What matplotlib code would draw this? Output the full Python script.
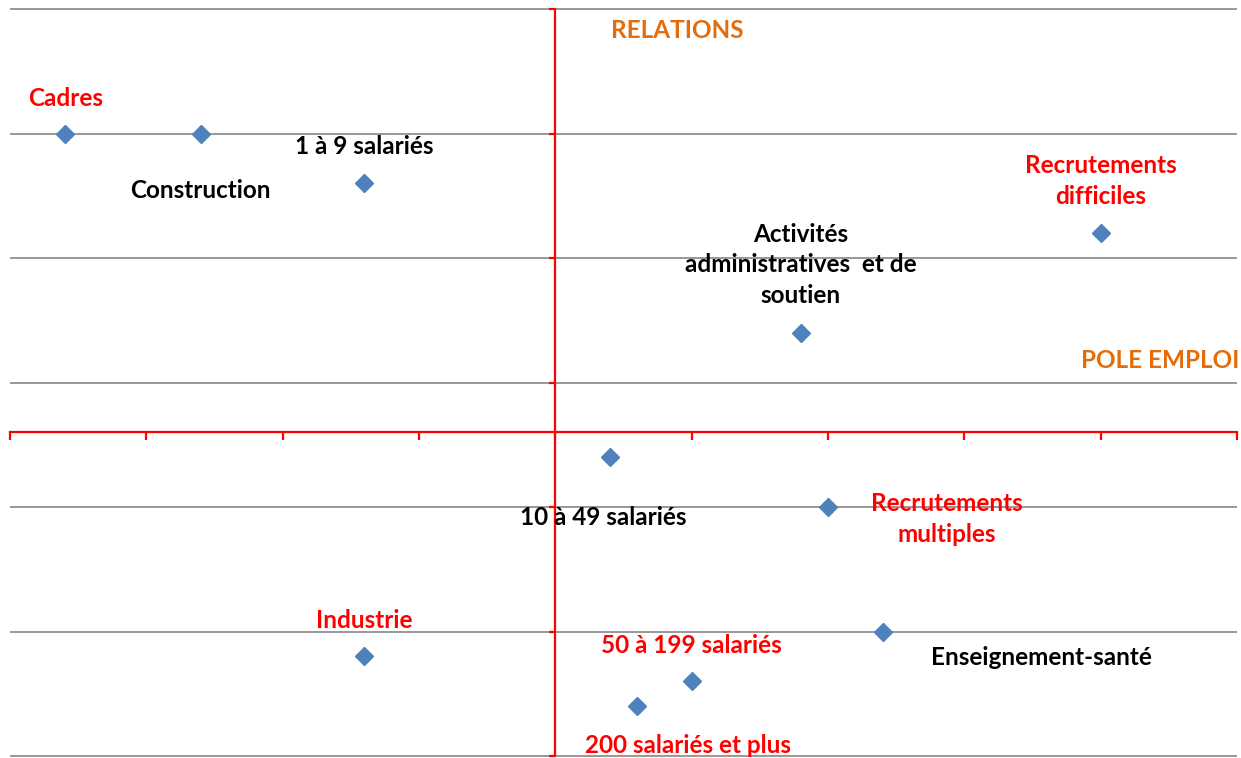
import matplotlib.pyplot as plt
import numpy as np

# --- Data ---
labels = ['Cadres', 'Construction', '1 à 9 salariés', 'Recrutements\ndifficiles',
          'Activités\nadministratives  et de\nsoutien', '10 à 49 salariés',
          'Recrutements\nmultiples', 'Enseignement-santé', 'Industrie',
          '50 à 199 salariés', '200 salariés et plus']
x_vals = [-3.6, -2.6, -1.4, 4.0, 1.8, 0.4, 2.0, 2.4, -1.4, 1.0, 0.6]
y_vals = [2.4, 2.4, 2.0, 1.6, 0.8, -0.2, -0.6, -1.6, -1.8, -2.0, -2.2]
label_red = [True, False, False, True, False, False, True, False, True, True, True]

x_ticks = np.arange(-4, 6, 1)
y_grid = [-2.6, -1.6, -0.6, 0.4, 1.4, 2.4, 3.4]

# label placement (pixels from the point)
offsets = [(1, 35), (0, -57), (0, 37), (0, 52), (0, 68), (-7, -60),
           (119, -12), (159, -26), (0, 36), (0, 36), (51, -39)]

RED = '#FF0000'
ORANGE = '#E46C0A'
BLUE = '#4F81BD'
FS = 17.5

plt.rcParams['font.family'] = ['Lato', 'DejaVu Sans']

fig = plt.figure(figsize=(12.41, 7.58), dpi=100)
ax = fig.add_axes([10 / 1241, 2 / 758, 1227 / 1241, 747 / 758])
ax.set_xlim(-4, 5)
ax.set_ylim(-2.6, 3.4)

# grey horizontal gridlines
ax.hlines(y_grid, -4, 5, color='#868686', lw=1.2, clip_on=False, zorder=1)

# axes crossing at the origin
for s in ['top', 'right']:
    ax.spines[s].set_visible(False)
ax.spines['left'].set_position(('data', 0))
ax.spines['bottom'].set_position(('data', 0))
for s in ['left', 'bottom']:
    ax.spines[s].set_color(RED)
    ax.spines[s].set_linewidth(1.6)
    ax.spines[s].set_zorder(2)
ax.set_xticks(x_ticks)
ax.set_yticks(y_grid)
ax.tick_params(axis='x', colors=RED, direction='out', length=6, width=1.6,
               labelbottom=False)
ax.tick_params(axis='y', colors=RED, direction='out', length=4.5, width=1.6,
               labelleft=False)

ax.plot(x_vals, y_vals, 'D', color=BLUE, markersize=9.5, zorder=3, clip_on=False)

for lab, xv, yv, red, off in zip(labels, x_vals, y_vals, label_red, offsets):
    ax.annotate(lab, (xv, yv), xytext=off, textcoords='offset pixels',
                ha='center', va='center', fontsize=FS, fontweight='bold',
                color=RED if red else 'black', linespacing=1.4, zorder=4)

# axis titles
ax.text(0.893, 3.23, 'RELATIONS', color=ORANGE, fontsize=FS,
        fontweight='bold', ha='center', va='center')
ax.text(4.435, 0.573, 'POLE EMPLOI', color=ORANGE, fontsize=FS,
        fontweight='bold', ha='center', va='center', clip_on=False)

fig.savefig('out.png', dpi=100)
